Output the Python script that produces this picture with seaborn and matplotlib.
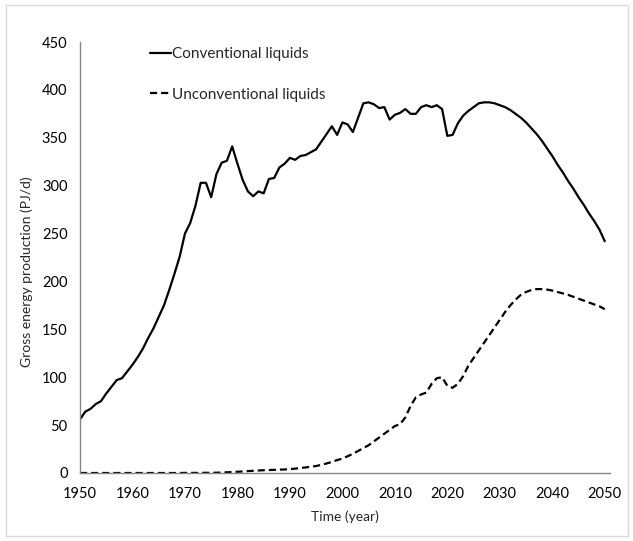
import numpy as np
import pandas as pd
import matplotlib
matplotlib.use("Agg")
import matplotlib.pyplot as plt
from matplotlib.patches import Rectangle
from matplotlib.ticker import MultipleLocator
import seaborn as sns

years = list(range(1950, 2051))

conventional = [
    56, 64, 67, 72, 75, 83, 90, 97, 99, 106,          # 1950-1959
    113, 121, 130, 141, 151, 163, 175, 191, 208, 226,  # 1960-1969
    250, 261, 279, 303, 303, 288, 312, 324, 326, 341,  # 1970-1979
    323, 306, 294, 289, 294, 292, 307, 308, 319, 323,  # 1980-1989
    329, 327, 331, 332, 335, 338, 346, 354, 362, 353,  # 1990-1999
    366, 364, 356, 371, 386, 387, 385, 381, 382, 369,  # 2000-2009
    374, 376, 380, 375, 375, 382, 384, 382, 384, 380,  # 2010-2019
    352, 353, 365, 373, 378, 382, 386, 387, 387, 386,  # 2020-2029
    384, 382, 379, 375, 371, 366, 360, 354, 347, 339,  # 2030-2039
    331, 322, 314, 305, 297, 288, 280, 271, 263, 254,  # 2040-2049
    242,                                               # 2050
]

unconventional = [
    0, 0, 0, 0, 0, 0, 0, 0, 0, 0,                          # 1950-1959
    0, 0, 0, 0, 0, 0, 0, 0, 0, 0,                          # 1960-1969
    0.1, 0.1, 0.1, 0.1, 0.2, 0.2, 0.3, 0.5, 0.7, 1.0,      # 1970-1979
    1.3, 1.6, 2.0, 2.3, 2.6, 2.9, 3.1, 3.3, 3.5, 3.7,      # 1980-1989
    4.0, 4.6, 5.2, 5.8, 6.5, 7.3, 8.5, 10, 11.5, 13.5,     # 1990-1999
    15, 17.5, 20, 23, 26, 29, 33, 37, 41, 45,              # 2000-2009
    49, 51, 58, 70, 79, 82, 84, 93, 99, 100,               # 2010-2019
    91, 89, 93, 101, 112, 120, 128, 136, 144, 152,         # 2020-2029
    160, 168, 175, 181, 186, 189, 191, 192, 192, 191.5,    # 2030-2039
    190.5, 189, 187.5, 186, 184, 182, 180, 178, 176, 174,  # 2040-2049
    171,                                                   # 2050
]

series_names = ["Conventional liquids", "Unconventional liquids"]
x_label = "Time (year)"
y_label = "Gross energy production (PJ/d)"

df = pd.DataFrame({
    "year": years * 2,
    "value": conventional + unconventional,
    "series": [series_names[0]] * len(years) + [series_names[1]] * len(years),
})

sns.set_style("white")
plt.rcParams["font.family"] = ["Lato", "DejaVu Sans"]

W, H = 633, 541
fig = plt.figure(figsize=(W / 100, H / 100), dpi=100)
ax = fig.add_axes([80 / W, 1 - 473 / H, (610 - 80) / W, (473 - 42) / H])

sns.lineplot(data=df, x="year", y="value", style="series",
             dashes={series_names[0]: "", series_names[1]: (3.2, 1.8)},
             color="black", linewidth=1.6, ax=ax, legend=True)

ax.set_xlim(1950, 2051)
ax.set_ylim(0, 450)
ax.xaxis.set_major_locator(MultipleLocator(10))
ax.xaxis.set_minor_locator(MultipleLocator(5))
ax.yaxis.set_major_locator(MultipleLocator(50))

grey = "#868686"
for s in ["top", "right"]:
    ax.spines[s].set_visible(False)
for s in ["left", "bottom"]:
    ax.spines[s].set_color(grey)
    ax.spines[s].set_linewidth(1.0)

ax.tick_params(axis="both", which="both", direction="out", length=5,
               width=1.0, color=grey, labelsize=10.5, labelcolor="black", pad=4)
ax.tick_params(axis="x", which="major", pad=5)
ax.set_xlabel(x_label, fontsize=10, labelpad=7)
ax.set_ylabel(y_label, fontsize=10)
ax.yaxis.set_label_coords(-0.088, 0.466)

handles, labels = ax.get_legend_handles_labels()
leg = ax.legend(handles, labels, loc="upper left",
                bbox_to_anchor=(150 / W, 1 - 47 / H), bbox_transform=fig.transFigure,
                frameon=False, fontsize=11, borderpad=0, borderaxespad=0,
                handlelength=1.35, handletextpad=0.12, labelspacing=1.75)

fig.patches.append(Rectangle((6 / W, 5 / H), 622 / W, 531 / H,
                             transform=fig.transFigure, fill=False,
                             edgecolor="#d9d9d9", linewidth=1.0))

fig.savefig("out.png", dpi=100, facecolor="white")
